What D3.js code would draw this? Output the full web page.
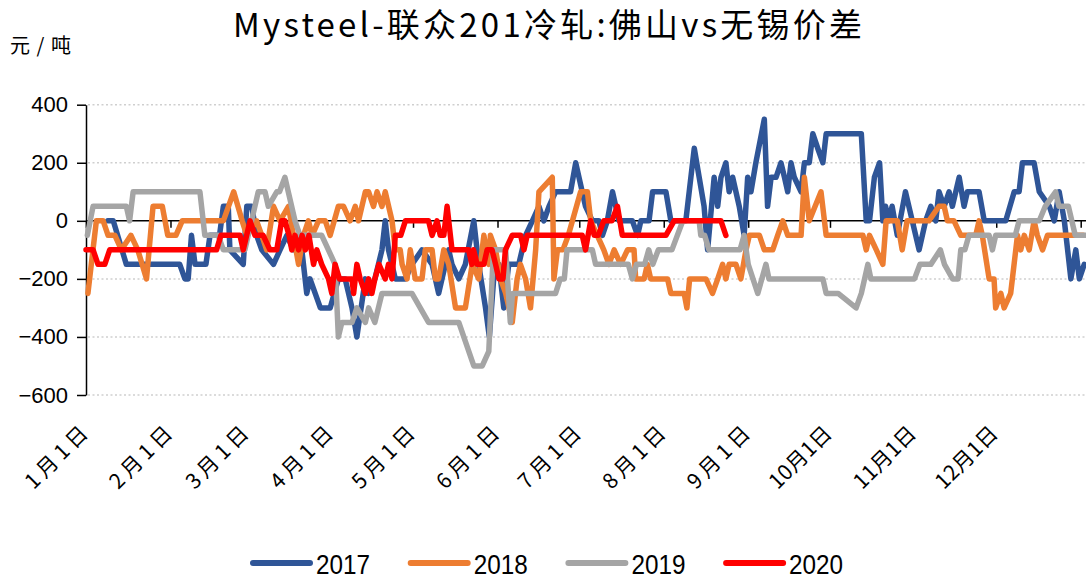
<!DOCTYPE html>
<html>
<head>
<meta charset="utf-8">
<script src="https://cdn.jsdelivr.net/npm/d3@7"></script>
<style>
  body { margin: 0; background: #fff; }
  svg { display: block; }
</style>
</head>
<body>
<script>
// 数据：[年内天数, 价差]
const s2017 = [[8,0],[10,0],[14.8,-150],[34.4,-150],[36.3,-200],[37.5,-200],[38.7,-50],[40,-150],[44,-150],[45.5,-50],[49,-50],[50.4,50],[52.2,50],[52.8,-100],[57.7,-150],[59,50],[60.8,50],[62.6,-50],[64.5,-100],[68.8,-150],[71.2,-100],[73.7,-50],[76.1,-100],[78.6,-50],[81,-250],[82.2,-200],[86,-300],[89.6,-300],[92.6,-200],[95.1,-200],[97.6,-300],[99.4,-400],[102.5,-200],[103.7,-250],[106,-200],[108.6,-100],[109.8,0],[111,-100],[113.5,-200],[117.2,-200],[119.6,-150],[123.3,-100],[127,-150],[129.4,-250],[133.1,-100],[134.3,-150],[136.8,-200],[139.2,-150],[142.3,0],[144.1,-150],[146.6,-300],[148,-400],[149.6,-200],[151.5,-150],[153.3,-300],[155.1,-150],[158.8,-150],[161.3,-50],[163.8,0],[166.2,50],[168,0],[169.9,50],[172.3,100],[177.8,100],[179.7,200],[182.1,100],[183.3,50],[185.8,0],[188.2,0],[189.5,-50],[191.3,0],[193.2,100],[195.6,0],[200.5,0],[202.4,-50],[203.6,0],[206.6,0],[207.9,100],[212.8,100],[214.6,0],[220.1,0],[223.2,250],[225,150],[226.8,50],[228.1,-100],[230.5,150],[231.8,50],[233,150],[234.8,200],[236,100],[237.3,150],[238.5,100],[239.7,50],[241.5,-50],[242.8,150],[244,100],[245.8,200],[248.9,350],[250.1,50],[251.4,150],[253.2,150],[255,200],[256.3,150],[257.5,100],[258.7,200],[259.9,150],[262.4,100],[263.6,200],[265.4,200],[266.7,300],[268.5,250],[270.4,200],[271.6,300],[284.5,300],[286.3,0],[287.5,0],[289.3,150],[291.2,200],[292.4,0],[293.4,50],[294.6,0],[295.8,50],[297.7,-50],[300.7,100],[303.2,0],[305.7,-100],[308.1,0],[310,50],[311.8,0],[313,100],[314.9,50],[316.7,100],[317.9,50],[320.4,150],[322.2,50],[323.4,100],[327.7,100],[329.6,0],[337.5,0],[340.6,100],[342.4,100],[343.6,200],[347.9,200],[349.8,100],[353.5,50],[355.3,0],[357.1,100],[359,0],[361.4,-200],[363.2,-100],[364.5,-200],[366.3,-150]];

const s2018 = [[0.7,-250],[3.8,0],[6.3,0],[8.1,-50],[10.6,-50],[13,-100],[16.5,-50],[19,-100],[22.2,-200],[24.6,50],[28,50],[30,-50],[33,-50],[35.3,0],[50.4,0],[54.2,100],[57.3,0],[59,-50],[62.6,0],[64.5,-50],[66.3,-100],[68.8,50],[71.2,0],[74.3,50],[76.1,-50],[78,-150],[79.8,-50],[81.6,0],[83,-50],[85.3,0],[87.8,0],[89.6,-50],[92.6,50],[94.5,50],[96.9,0],[98.8,50],[100,0],[102.5,100],[103.7,100],[105.5,50],[106.8,100],[108.6,50],[109.8,100],[112.3,0],[113.5,-100],[115.3,-100],[116,-150],[117.8,-200],[119,-100],[120.8,-200],[123.3,-200],[124.5,-100],[127,-100],[128.2,-200],[129.4,-200],[131.3,-100],[133.1,-150],[135.6,-300],[139.2,-300],[141.7,-150],[144.1,-200],[146,-50],[147.8,-150],[148.4,-50],[150.3,-100],[152.1,-200],[154,-250],[156.4,-350],[158.2,-200],[159.4,-150],[161.3,-200],[163.1,-300],[165,-100],[166.2,100],[171.1,150],[171.7,-200],[173,-100],[175,-100],[177,-50],[180,50],[181.5,100],[184,100],[185.2,0],[187.6,-50],[190,-100],[191.9,-150],[193.8,-100],[196.2,-150],[198.7,-100],[201.1,-100],[201.7,-200],[204.8,-200],[206,-150],[207.2,-200],[213.4,-200],[214.6,-250],[219.5,-250],[220.5,-300],[221.5,-200],[227.5,-200],[229.9,-250],[231.8,-200],[233.6,-150],[234.8,-200],[236,-150],[238.5,-150],[240.3,-200],[242.2,-100],[243.4,-50],[247.1,-50],[248.9,-100],[252,-100],[253.8,-50],[255.7,0],[257.5,-50],[262.4,-50],[263.6,150],[265.4,0],[269.7,100],[271.6,-50],[285.1,-50],[286.3,-100],[287.5,-50],[290,-100],[292.4,-150],[293.6,0],[297.7,0],[299.5,-100],[301.3,0],[309.3,0],[313,50],[314.9,50],[316.1,0],[318.5,0],[321,-50],[326.5,-50],[327.7,0],[328.9,-50],[331.4,-200],[333.2,-200],[333.8,-300],[335.7,-250],[336.9,-300],[339.3,-250],[341.8,-50],[343,-100],[344.3,-50],[346.1,-100],[347.9,0],[349.1,-50],[351,-100],[352.8,-50],[366,-50]];

const s2019 = [[0.5,-50],[2.6,50],[14.8,50],[16,0],[17.3,100],[41.8,100],[43.6,-50],[48.5,-50],[50.4,-100],[58.3,-100],[63.2,100],[65.7,100],[66.9,50],[70,100],[71,100],[73,150],[76.7,0],[78.5,-50],[86.5,-50],[91.4,-150],[92.6,-400],[93.9,-350],[97.6,-350],[99.4,-300],[102.5,-350],[103.7,-300],[106,-350],[108.6,-250],[119.6,-250],[125.7,-350],[136.8,-350],[142.3,-500],[145.4,-500],[147.8,-450],[149.5,-100],[154,-100],[155.7,-350],[156.5,-250],[172.3,-250],[174,-200],[175.5,-200],[176.5,-100],[185.8,-100],[187,-150],[199,-150],[200.5,-200],[202,-150],[205,-150],[206.5,-100],[208,-150],[210,-100],[215,-100],[219,0],[225,0],[225.6,-50],[227,-50],[228.6,-100],[240,-100],[241.5,-50],[243,-150],[246.5,-250],[249.5,-150],[250.6,-200],[270.4,-200],[271.6,-250],[276,-250],[282.6,-300],[284.5,-250],[286.9,-150],[288,-200],[304,-200],[306,-150],[310,-150],[313.5,-100],[315,-150],[318,-200],[320,-200],[321,-100],[322.5,-100],[324,-50],[331.4,-50],[332.6,-100],[333.8,-50],[341,-50],[342.4,0],[349.8,0],[352,50],[355.8,100],[357,50],[360.5,50],[363,-50],[367,-50]];

const s2020 = [[0,-100],[2.6,-100],[4.4,-150],[6.9,-150],[8.7,-100],[47.9,-100],[49.5,-50],[56.5,-50],[57.7,-100],[60.2,0],[62,-50],[65,-50],[67.5,-100],[70,-100],[71.8,0],[73,0],[74.5,-50],[75.5,-100],[76.7,-50],[78,-100],[79.3,-50],[80.5,-100],[81.8,-50],[83.5,-150],[84.7,-100],[86.5,-150],[89,-200],[90.2,-250],[91.4,-150],[93,-200],[97.6,-200],[98.2,-250],[99.4,-150],[100.6,-200],[102.5,-250],[103.7,-200],[104.9,-250],[106,-200],[107.5,-150],[109.8,-200],[111,-150],[112.3,-200],[113.5,-50],[115.5,-50],[117.2,0],[125.7,0],[127,-50],[128.8,0],[130,-50],[131.3,-50],[132.5,50],[134.3,-100],[140.4,-100],[141.6,-150],[142.2,-100],[143.5,-150],[146,-150],[147.2,-100],[149,-100],[150.3,-150],[151.5,-200],[153,-200],[153.9,-100],[156.4,-50],[159.5,-50],[160.7,-100],[161.9,-50],[182.1,-50],[183.3,-100],[185.2,0],[186.5,-50],[188,-50],[190,0],[193,0],[195,50],[196.8,-50],[212.8,-50],[215.8,0],[233,0],[234.8,-50]];

const seriesNames = ["2017", "2018", "2019", "2020"];
const seriesData = [s2017, s2018, s2019, s2020];
const seriesColors = ["#2F5597", "#ED7D31", "#A5A5A5", "#FF0000"];

const monthStarts = [0, 31, 59, 90, 120, 151, 181, 212, 243, 273, 304, 334];
const monthLabels = ["1月1日","2月1日","3月1日","4月1日","5月1日","6月1日","7月1日","8月1日","9月1日","10月1日","11月1日","12月1日"];
const yTicks = [400, 200, 0, -200, -400, -600];

const W = 1086, H = 579;

const svg = d3.select("body").append("svg")
    .attr("width", W)
    .attr("height", H);

// 比例尺
const x = d3.scaleLinear().domain([0, 365]).range([86, 1080.7]);
const y = d3.scaleLinear().domain([-600, 400]).range([395, 104.7]);

// 标题
svg.append("text")
    .attr("x", 233).attr("y", 37)
    .attr("textLength", 629)
    .attr("font-family", "'Noto Sans CJK SC', sans-serif")
    .attr("font-size", 33)
    .attr("fill", "#000")
    .text("Mysteel-联众201冷轧:佛山vs无锡价差");

svg.append("text")
    .attr("x", 10).attr("y", 53)
    .attr("textLength", 61)
    .attr("font-family", "'Noto Sans CJK SC', sans-serif")
    .attr("font-size", 20)
    .attr("fill", "#000")
    .text("元/吨");

// 网格线
svg.append("g")
    .selectAll("line")
    .data(yTicks.filter(d => d !== 0))
    .enter().append("line")
    .attr("x1", 88).attr("x2", W)
    .attr("y1", d => y(d)).attr("y2", d => y(d))
    .attr("stroke", "#cfcfcf")
    .attr("stroke-width", 1.5)
    .attr("stroke-dasharray", "2,2.5");

// Y轴
const yAxis = svg.append("g")
    .attr("transform", "translate(86,0)")
    .call(d3.axisLeft(y).tickValues(yTicks).tickSize(9).tickSizeOuter(0).tickPadding(9));
yAxis.select(".domain").attr("stroke", "#000").attr("stroke-width", 1.5);
yAxis.selectAll(".tick line").attr("stroke", "#000").attr("stroke-width", 1.5);
yAxis.selectAll(".tick text")
    .attr("font-family", "'Liberation Sans', Arial, sans-serif")
    .attr("font-size", 22)
    .attr("fill", "#000");

// 零线和月份刻度
svg.append("line")
    .attr("x1", 86).attr("x2", W)
    .attr("y1", y(0)).attr("y2", y(0))
    .attr("stroke", "#000").attr("stroke-width", 1.5);

const xAxis = svg.append("g")
    .attr("transform", "translate(0," + y(0) + ")")
    .call(d3.axisBottom(x).tickValues(monthStarts.concat([365])).tickSize(7).tickFormat(""));
xAxis.select(".domain").remove();
xAxis.selectAll(".tick line").attr("stroke", "#000").attr("stroke-width", 1.5);

// 月份标签
svg.append("g")
    .selectAll("text")
    .data(monthStarts)
    .enter().append("text")
    .attr("transform", d => "translate(" + (x(d) + 3) + ",435) rotate(-45)")
    .attr("text-anchor", "end")
    .attr("textLength", 78)
    .attr("font-family", "'Noto Sans CJK SC', sans-serif")
    .attr("font-size", 21)
    .attr("fill", "#000")
    .text((d, i) => monthLabels[i]);

// 折线
const line = d3.line()
    .x(d => x(d[0]))
    .y(d => y(d[1]));

svg.append("g")
    .selectAll("path")
    .data(seriesData)
    .enter().append("path")
    .attr("d", line)
    .attr("fill", "none")
    .attr("stroke", (d, i) => seriesColors[i])
    .attr("stroke-width", 5.5)
    .attr("stroke-linejoin", "round")
    .attr("stroke-linecap", "round");

// 图例
const legend = svg.append("g")
    .selectAll("g")
    .data(seriesNames)
    .enter().append("g")
    .attr("transform", (d, i) => "translate(" + (253 + i * 157.7) + ",563)");

legend.append("line")
    .attr("x1", 0).attr("x2", 57)
    .attr("stroke", (d, i) => seriesColors[i])
    .attr("stroke-width", 6)
    .attr("stroke-linecap", "round");

legend.append("text")
    .attr("x", 63).attr("y", 11)
    .attr("textLength", 54)
    .attr("lengthAdjust", "spacingAndGlyphs")
    .attr("font-family", "'Liberation Sans Narrow', 'Liberation Sans', Arial, sans-serif")
    .attr("font-size", 28)
    .attr("fill", "#000")
    .text(d => d);
</script>
</body>
</html>
